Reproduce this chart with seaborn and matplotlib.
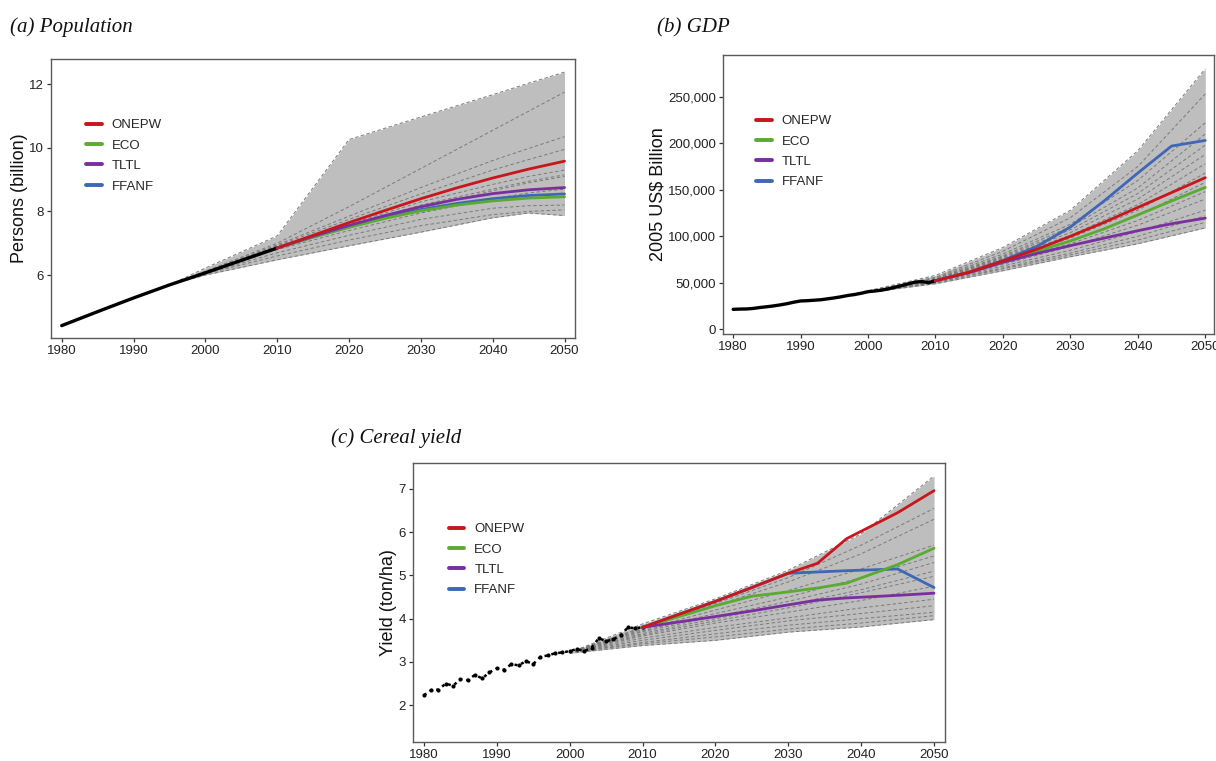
import numpy as np
import pandas as pd
import matplotlib
matplotlib.use("Agg")
import matplotlib.pyplot as plt
import seaborn as sns
from matplotlib.ticker import FuncFormatter

sns.set_style("ticks")
plt.rcParams["font.family"] = ["Liberation Sans", "DejaVu Sans"]

# ---------------------------------------------------------------- data
scenarios = ["ONEPW", "ECO", "TLTL", "FFANF"]
scenario_colors = ["#C8161D", "#5AAB32", "#7B2F9E", "#3F67B5"]
proj_years = [2010, 2015, 2020, 2025, 2030, 2035, 2040, 2045, 2050]

# (a) Population, billion persons
pop_hist_years = [1980, 1985, 1990, 1995, 2000, 2005, 2010]
pop_hist = [4.41, 4.85, 5.28, 5.69, 6.07, 6.46, 6.85]
pop_onepw = [6.85, 7.25, 7.65, 8.03, 8.40, 8.74, 9.05, 9.33, 9.58]
pop_eco = [6.85, 7.19, 7.50, 7.78, 8.02, 8.20, 8.33, 8.42, 8.46]
pop_tltl = [6.85, 7.22, 7.56, 7.87, 8.15, 8.38, 8.56, 8.68, 8.75]
pop_ffanf = [6.85, 7.20, 7.52, 7.81, 8.06, 8.25, 8.40, 8.50, 8.55]
pop_run_years = [1995, 2000, 2010, 2020, 2030, 2040, 2045, 2050]
pop_runs = [
    [5.69, 6.22, 7.23, 10.26, 10.97, 11.67, 12.03, 12.38],
    [5.69, 6.12, 7.00, 8.15, 9.35, 10.55, 11.15, 11.75],
    [5.69, 6.10, 6.95, 7.85, 8.75, 9.60, 9.98, 10.35],
    [5.69, 6.09, 6.92, 7.75, 8.55, 9.30, 9.63, 9.95],
    [5.69, 6.08, 6.90, 7.60, 8.30, 8.85, 9.10, 9.30],
    [5.69, 6.08, 6.88, 7.55, 8.20, 8.70, 8.95, 9.15],
    [5.69, 6.07, 6.87, 7.50, 8.10, 8.65, 8.90, 9.10],
    [5.69, 6.06, 6.80, 7.40, 7.95, 8.40, 8.58, 8.70],
    [5.69, 6.05, 6.70, 7.25, 7.75, 8.10, 8.18, 8.20],
    [5.69, 6.04, 6.60, 7.10, 7.55, 7.90, 8.00, 8.05],
    [5.69, 6.00, 6.48, 6.92, 7.35, 7.80, 7.95, 7.87],
]

# (b) GDP, 2005 US$ billion
gdp_hist_years = list(range(1980, 2011))
gdp_hist = [21500, 21800, 21900, 22500, 23500, 24300, 25200, 26300, 27600, 29200,
            30500, 30800, 31300, 31800, 32800, 33800, 35000, 36400, 37400, 38800,
            40500, 41200, 42100, 43500, 45300, 47000, 49000, 50800, 51300, 50200,
            52300]
gdp_onepw = [52300, 61500, 73500, 86000, 100000, 115000, 131000, 147000, 163000]
gdp_eco = [52300, 61500, 73000, 84000, 95000, 108000, 123000, 138000, 152500]
gdp_tltl = [52300, 61000, 72000, 81500, 90000, 98000, 106000, 113500, 119500]
gdp_ffanf = [52300, 61500, 74000, 89000, 110000, 138000, 168000, 197000, 203000]
gdp_run_years = [1995, 2000, 2010, 2020, 2030, 2040, 2050]
gdp_runs = [
    [33800, 41500, 58000, 88000, 128000, 192000, 280000],
    [33800, 41200, 56000, 84000, 120000, 175000, 253000],
    [33800, 41000, 55000, 81000, 113000, 160000, 222000],
    [33800, 40800, 54000, 79000, 110000, 152000, 210000],
    [33800, 40700, 54000, 78000, 107000, 146000, 198000],
    [33800, 40600, 53500, 77000, 104000, 140000, 188000],
    [33800, 40500, 53000, 76000, 101000, 134000, 178000],
    [33800, 40500, 53000, 75000, 98000, 128000, 168000],
    [33800, 40400, 52500, 73000, 95000, 122000, 158000],
    [33800, 40300, 52000, 72000, 92000, 117000, 148000],
    [33800, 40200, 51500, 70000, 89000, 112000, 140000],
    [33800, 40100, 51000, 68000, 85000, 105000, 128000],
    [33800, 40000, 50500, 66000, 82000, 100000, 122000],
    [33800, 39900, 50000, 65000, 80000, 96000, 115000],
    [33800, 39600, 49000, 63000, 78000, 92000, 109000],
]

# (c) Cereal yield, ton/ha
yld_hist_years = list(range(1980, 2011))
yld_hist = [2.23, 2.35, 2.36, 2.50, 2.45, 2.60, 2.58, 2.70, 2.62, 2.76,
            2.85, 2.82, 2.95, 2.92, 3.02, 2.95, 3.12, 3.15, 3.20, 3.22,
            3.25, 3.30, 3.25, 3.33, 3.55, 3.48, 3.52, 3.62, 3.80, 3.78,
            3.80]
yld_years = [2010, 2020, 2025, 2030, 2034, 2038, 2045, 2050]
yld_onepw = [3.80, 4.40, 4.72, 5.05, 5.28, 5.85, 6.45, 6.96]
yld_eco = [3.80, 4.30, 4.52, 4.62, 4.71, 4.82, 5.25, 5.63]
yld_tltl = [3.80, 4.05, 4.18, 4.32, 4.43, 4.48, 4.54, 4.59]
yld_ffanf = [3.80, 4.40, 4.72, 5.05, 5.08, 5.11, 5.15, 4.72]
yld_run_years = [2000, 2010, 2020, 2030, 2040, 2050]
yld_runs = [
    [3.22, 3.88, 4.46, 5.12, 5.96, 7.30],
    [3.22, 3.80, 4.35, 4.95, 5.70, 6.55],
    [3.22, 3.78, 4.30, 4.85, 5.50, 6.30],
    [3.22, 3.75, 4.20, 4.65, 5.15, 5.70],
    [3.22, 3.72, 4.12, 4.50, 4.95, 5.45],
    [3.22, 3.70, 4.05, 4.40, 4.80, 5.30],
    [3.22, 3.66, 4.00, 4.32, 4.67, 5.10],
    [3.22, 3.63, 3.95, 4.25, 4.60, 4.98],
    [3.22, 3.60, 3.90, 4.15, 4.42, 4.75],
    [3.22, 3.55, 3.80, 4.02, 4.25, 4.45],
    [3.22, 3.50, 3.73, 3.95, 4.12, 4.30],
    [3.22, 3.45, 3.65, 3.85, 4.00, 4.15],
    [3.22, 3.42, 3.58, 3.76, 3.90, 4.07],
    [3.20, 3.38, 3.50, 3.69, 3.81, 3.98],
]

# ---------------------------------------------------------------- helpers
BAND = "#BEBEBE"
RUN = "#7A7A7A"
FRAME = "#5A5A5A"


def runs_frame(years, runs):
    rows = [(i, y, v) for i, r in enumerate(runs) for y, v in zip(years, r)]
    return pd.DataFrame(rows, columns=["run", "year", "value"])


def scen_frame(years, series):
    rows = [(s, y, v) for s, vals in zip(scenarios, series) for y, v in zip(years, vals)]
    return pd.DataFrame(rows, columns=["scenario", "year", "value"])


def style_axes(ax, ylabel, xlim, ylim, yticks):
    ax.set_xlim(*xlim)
    ax.set_ylim(*ylim)
    ax.set_xticks(range(1980, 2051, 10))
    ax.set_yticks(yticks)
    ax.set_xlabel("")
    ax.set_ylabel(ylabel, fontsize=13, color="#111111", labelpad=1)
    for sp in ax.spines.values():
        sp.set_visible(True)
        sp.set_color(FRAME)
        sp.set_linewidth(1.0)
    ax.tick_params(axis="both", direction="out", length=3, width=0.9,
                   color="#333333", labelsize=9.5, labelcolor="#222222", pad=2)


def draw_panel(ax, run_years, runs, proj_x, series, hist_x, hist_y, hist_kind):
    rdf = runs_frame(run_years, runs)
    band = rdf.groupby("year")["value"].agg(["min", "max"]).reset_index()
    ax.fill_between(band["year"], band["min"], band["max"], color=BAND, lw=0, zorder=1)
    sns.lineplot(data=rdf, x="year", y="value", units="run", estimator=None,
                 color=RUN, lw=0.7, linestyle=(0, (3.5, 2.5)), legend=False,
                 ax=ax, zorder=2)
    if hist_kind == "line":
        sns.lineplot(x=hist_x, y=hist_y, color="black", lw=2.4, ax=ax, zorder=4)
    else:
        sns.lineplot(x=hist_x, y=hist_y, color="black", lw=1.8,
                     linestyle=(0, (1.2, 1.6)), ax=ax, zorder=4)
        sns.scatterplot(x=hist_x, y=hist_y, color="black", s=9, lw=0, ax=ax, zorder=4)
    sdf = scen_frame(proj_x, series)
    draw_order = ["FFANF", "ECO", "TLTL", "ONEPW"]
    for name in draw_order:
        sub = sdf[sdf["scenario"] == name]
        sns.lineplot(data=sub, x="year", y="value", lw=2.0,
                     color=scenario_colors[scenarios.index(name)], ax=ax,
                     legend=False, zorder=5)
    handles = [plt.Line2D([], [], color=c, lw=2.8) for c in scenario_colors]
    ax.legend(handles, scenarios, loc="upper left", bbox_to_anchor=(0.067, 0.785),
              frameon=False, fontsize=9.5, handlelength=1.2, handletextpad=0.75,
              labelspacing=0.62, borderpad=0, borderaxespad=0)


# ---------------------------------------------------------------- figure
fig = plt.figure(figsize=(12.16, 7.61), dpi=100)

ax_a = fig.add_axes([0.0419, 0.5558, 0.4309, 0.3666])
draw_panel(ax_a, pop_run_years, pop_runs, proj_years,
           [pop_onepw, pop_eco, pop_tltl, pop_ffanf],
           pop_hist_years, pop_hist, "line")
style_axes(ax_a, "Persons (billion)", (1978.5, 2051.45), (4.02, 12.79), [6, 8, 10, 12])

ax_b = fig.add_axes([0.5946, 0.5611, 0.4038, 0.3666])
draw_panel(ax_b, gdp_run_years, gdp_runs, proj_years,
           [gdp_onepw, gdp_eco, gdp_tltl, gdp_ffanf],
           gdp_hist_years, gdp_hist, "line")
style_axes(ax_b, "2005 US\\$ Billion", (1978.5, 2051.3), (-5000, 294800),
           [0, 50000, 100000, 150000, 200000, 250000])
ax_b.yaxis.set_major_formatter(FuncFormatter(lambda v, p: f"{int(v):,}"))

ax_c = fig.add_axes([0.3396, 0.0250, 0.4375, 0.3666])
draw_panel(ax_c, yld_run_years, yld_runs, yld_years,
           [yld_onepw, yld_eco, yld_tltl, yld_ffanf],
           yld_hist_years, yld_hist, "dots")
style_axes(ax_c, "Yield (ton/ha)", (1978.5, 2051.5), (1.15, 7.6), [2, 3, 4, 5, 6, 7])

title_kw = dict(fontsize=15, style="italic", family=["Liberation Serif", "DejaVu Serif"],
                color="#111111", va="baseline", ha="left")
fig.text(10 / 1216, 1 - 32 / 761, "(a) Population", **title_kw)
fig.text(657 / 1216, 1 - 32 / 761, "(b) GDP", **title_kw)
fig.text(331 / 1216, 1 - 443 / 761, "(c) Cereal yield", **title_kw)

fig.savefig("out.png", dpi=100)
